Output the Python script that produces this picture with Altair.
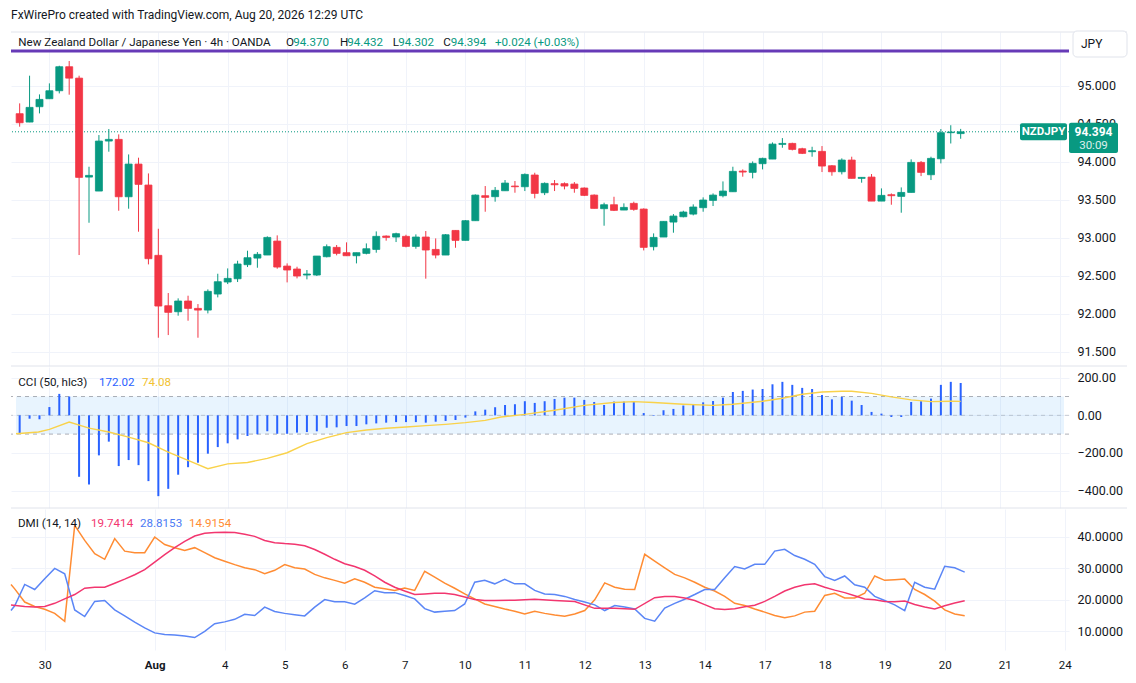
import json
import numpy as np
import pandas as pd
import altair as alt

# ---------------- data ----------------
open_ = [94.632, 94.522, 94.724, 94.829, 94.934, 95.250, 95.100, 93.798, 93.614, 94.272,
         94.294, 93.539, 93.969, 93.693, 92.768, 92.105, 92.026, 92.167, 92.070, 92.048,
         92.259, 92.417, 92.460, 92.645, 92.732, 92.772, 92.956, 92.627, 92.588, 92.509,
         92.509, 92.750, 92.873, 92.803, 92.763, 92.794, 92.846, 93.022, 93.009, 93.018,
         92.886, 93.009, 92.846, 92.772, 93.096, 92.965, 93.224, 93.553, 93.540, 93.618,
         93.680, 93.671, 93.825, 93.592, 93.711, 93.711, 93.706, 93.654, 93.561, 93.382,
         93.434, 93.364, 93.452, 93.377, 92.882, 93.009, 93.206, 93.276, 93.311, 93.395,
         93.491, 93.553, 93.605, 93.877, 93.860, 93.974, 94.035, 94.228, 94.241, 94.171,
         94.132, 94.136, 93.947, 93.868, 94.022, 93.781, 93.798, 93.482, 93.566, 93.544,
         93.596, 93.991, 93.829, 94.039, 94.382, 94.370]
high = [94.768, 95.132, 94.886, 95.031, 95.263, 95.325, 95.132, 93.934, 94.351, 94.430,
        94.360, 94.096, 94.053, 93.846, 93.118, 92.272, 92.202, 92.237, 92.127, 92.320,
        92.526, 92.596, 92.697, 92.829, 92.811, 93.018, 93.031, 92.662, 92.618, 92.575,
        92.759, 92.912, 92.904, 92.939, 92.803, 92.925, 93.083, 93.031, 93.066, 93.039,
        93.044, 93.088, 92.991, 93.048, 93.096, 93.232, 93.570, 93.680, 93.667, 93.759,
        93.746, 93.846, 93.855, 93.728, 93.759, 93.728, 93.732, 93.662, 93.570, 93.461,
        93.539, 93.452, 93.474, 93.386, 93.057, 93.215, 93.311, 93.355, 93.439, 93.531,
        93.583, 93.741, 93.934, 93.899, 94.004, 94.053, 94.254, 94.311, 94.250, 94.184,
        94.197, 94.206, 93.956, 94.044, 94.066, 93.794, 93.838, 93.649, 93.583, 93.662,
        94.031, 94.009, 94.066, 94.430, 94.480, 94.432]
low = [94.461, 94.520, 94.636, 94.829, 94.899, 94.882, 92.772, 93.197, 93.614, 94.132,
       93.355, 93.382, 93.079, 92.649, 91.684, 91.719, 91.974, 91.908, 91.684, 92.004,
       92.215, 92.390, 92.417, 92.614, 92.605, 92.772, 92.592, 92.412, 92.465, 92.452,
       92.496, 92.741, 92.768, 92.759, 92.662, 92.781, 92.803, 92.961, 92.943, 92.873,
       92.855, 92.461, 92.728, 92.772, 92.868, 92.965, 93.224, 93.342, 93.474, 93.618,
       93.592, 93.614, 93.518, 93.561, 93.614, 93.636, 93.592, 93.548, 93.386, 93.158,
       93.351, 93.364, 93.355, 92.833, 92.833, 93.009, 93.066, 93.268, 93.294, 93.342,
       93.417, 93.531, 93.605, 93.803, 93.781, 93.899, 94.035, 94.184, 94.149, 94.101,
       94.066, 93.864, 93.816, 93.833, 93.781, 93.724, 93.482, 93.482, 93.434, 93.329,
       93.596, 93.811, 93.759, 93.978, 94.240, 94.302]
close = [94.513, 94.715, 94.820, 94.934, 95.250, 95.100, 93.794, 93.820, 94.272, 94.294,
         93.539, 93.969, 93.702, 92.724, 92.101, 92.018, 92.167, 92.070, 92.048, 92.294,
         92.421, 92.465, 92.654, 92.737, 92.781, 93.004, 92.614, 92.575, 92.496, 92.522,
         92.759, 92.882, 92.794, 92.763, 92.803, 92.855, 93.018, 93.004, 93.053, 92.886,
         93.009, 92.838, 92.772, 93.039, 92.965, 93.224, 93.561, 93.531, 93.623, 93.719,
         93.671, 93.833, 93.583, 93.715, 93.697, 93.680, 93.649, 93.557, 93.386, 93.434,
         93.360, 93.399, 93.373, 92.873, 93.004, 93.215, 93.285, 93.338, 93.404, 93.496,
         93.561, 93.614, 93.873, 93.864, 93.978, 94.044, 94.232, 94.241, 94.162, 94.110,
         94.145, 93.943, 93.868, 94.022, 93.781, 93.794, 93.482, 93.557, 93.553, 93.596,
         93.991, 93.860, 94.044, 94.382, 94.390, 94.394]

cci = [-98, -18, -21, 44, 114, 100, -327, -368, -213, -140,
       -270, -238, -265, -350, -430, -391, -316, -276, -252, -204,
       -169, -149, -128, -110, -101, -85, -98, -98, -92, -89,
       -85, -66, -64, -57, -57, -48, -43, -39, -36, -36,
       -36, -39, -34, -30, -25, -12, 21, 30, 43, 55,
       59, 75, 66, 75, 87, 94, 94, 82, 71, 55,
       73, 73, 73, 12, -3, 27, 34, 52, 55, 69,
       76, 94, 124, 130, 137, 140, 165, 178, 162, 146,
       140, 108, 85, 98, 78, 55, 18, 9, -9, -9,
       71, 75, 89, 162, 178, 172.02]
cci_ma_x = [-0.37, 1.9, 3, 5, 7, 9, 11, 13, 15, 17, 19, 21, 23, 25, 27, 29, 31, 33, 35, 37,
            39, 41, 43, 45, 47, 48.6, 51, 54, 57, 60, 62, 64, 67, 70, 72, 75, 77, 79, 81, 83,
            84, 86, 88, 90, 92, 94, 95]
cci_ma = [-98, -89, -75, -36, -68, -89, -116, -146, -196, -240, -284, -258, -251, -229, -199,
          -151, -119, -92, -78, -69, -62, -55, -48, -39, -27, -9, 5, 27, 53, 68, 73, 68, 59,
          53, 59, 75, 91, 112, 124, 128, 128, 117, 98, 82, 73, 75, 74.08]

dmi_x = [-0.37] + list(range(96))
plus_di = [16.6,
           18.1, 24.9, 23.3, 26.7, 30.0, 28.3, 16.8, 14.7, 19.5, 19.8,
           16.8, 14.9, 12.9, 11.1, 9.5, 9.0, 8.8, 8.5, 8.0, 10.0,
           12.4, 13.0, 13.8, 15.4, 15.0, 17.7, 16.3, 15.7, 15.3, 14.9,
           17.7, 20.1, 19.4, 19.4, 18.6, 20.6, 22.9, 22.3, 22.3, 21.4,
           20.3, 17.2, 16.1, 16.4, 16.6, 18.7, 25.6, 26.2, 25.1, 26.5,
           25.1, 25.1, 23.0, 21.9, 21.7, 21.1, 20.1, 19.3, 18.4, 16.6,
           18.2, 17.7, 17.1, 14.1, 13.2, 17.4, 18.9, 20.2, 21.7, 23.3,
           23.3, 27.0, 30.6, 29.8, 31.3, 31.3, 35.5, 36.1, 34.1, 32.9,
           31.3, 27.4, 26.2, 27.6, 24.8, 24.0, 21.1, 19.8, 18.4, 16.6,
           25.6, 24.0, 23.4, 30.7, 30.2, 28.8153]
minus_di = [24.9,
            23.5, 19.3, 17.9, 17.0, 15.7, 13.2, 43.7, 38.9, 34.7, 32.9,
            39.5, 35.5, 35.0, 35.0, 40.0, 37.6, 36.6, 35.7, 36.6, 35.0,
            33.4, 32.3, 31.2, 30.2, 29.6, 28.3, 29.4, 31.2, 30.2, 29.8,
            28.1, 27.0, 26.2, 25.3, 26.7, 25.6, 24.0, 23.5, 23.0, 23.8,
            23.0, 29.1, 27.2, 25.3, 23.7, 21.9, 20.3, 18.7, 17.9, 17.1,
            16.4, 15.5, 16.4, 15.7, 15.2, 14.8, 15.5, 16.6, 20.0, 25.4,
            24.0, 23.4, 23.3, 34.5, 32.3, 30.2, 28.1, 27.0, 25.6, 24.0,
            22.8, 21.1, 18.9, 18.2, 17.1, 16.1, 15.0, 14.3, 14.9, 16.1,
            16.4, 21.4, 22.1, 20.6, 20.6, 22.1, 27.6, 26.2, 26.4, 26.6,
            23.3, 21.7, 19.6, 16.8, 15.5, 14.9154]
adx_x = [-0.37] + list(range(1, 49)) + [50, 52, 54, 56, 58, 60, 62] + list(range(64, 96))
adx = [18.4,
       17.9, 17.7, 17.9, 18.9, 20.3, 21.7, 23.7, 24.0, 24.0, 25.3,
       26.6, 28.0, 29.6, 32.0, 34.4, 36.6, 38.6, 40.3, 41.2, 41.4,
       41.5, 41.4, 40.9, 40.2, 38.9, 38.2, 37.9, 37.7, 37.2, 36.0,
       34.5, 32.9, 31.5, 30.6, 29.4, 27.6, 25.6, 24.0, 22.8, 21.7,
       21.9, 22.1, 22.1, 21.7, 20.9, 20.1, 19.8, 19.8,
       19.9, 20.2, 19.8, 19.5, 17.3, 17.3, 17.0,
       20.7, 21.1, 21.1, 20.6, 19.8, 18.5, 17.2, 16.9, 17.2, 17.8,
       18.3, 19.5, 21.1, 22.8, 24.0, 24.8, 25.1, 24.0, 23.1, 22.3,
       21.3, 20.3, 20.0, 19.5, 19.4, 19.6, 18.5, 17.7, 17.1, 18.1,
       19.0, 19.7414]

tick_idx = [3, 14, 21, 27, 33, 39, 45, 51, 57, 63, 69, 75, 81, 87, 93, 99, 105]
tick_lbl = ["30", "Aug", "4", "5", "6", "7", "10", "11", "12", "13", "14", "17", "18",
            "19", "20", "21", "24"]
price_ticks = [91.5, 92.0, 92.5, 93.0, 93.5, 94.0, 94.5, 95.0]
cci_ticks = [-400, -200, 0, 200]
dmi_ticks = [10, 20, 30, 40]
cci_bands = [100, 0, -100]
last_price = 94.394
hline_price = 95.457

# ---------------- styling ----------------
FONT = "Roboto"
TXT = "#131722"
UP = "#089981"
DN = "#F23645"
GRID = "#F0F3FA"
SEP = "#E0E3EB"
ADX_C, PDI_C, MDI_C = "#F2366F", "#5B86F6", "#FF8C33"
W = 1058
H_PRICE, H_CCI, H_DMI = 334, 141, 141
XDOM = [-0.37, 105.43]
LF = 11.6  # legend font size

xs = alt.Scale(domain=XDOM, nice=False, zero=False)
lbl_expr = "%s[indexof(%s, datum.value)]" % (json.dumps(tick_lbl), json.dumps(tick_idx))


def xaxis(show):
    if show:
        return alt.Axis(values=tick_idx, labelExpr=lbl_expr, grid=True, gridColor=GRID,
                        ticks=False, domain=False, title=None, labelColor=TXT,
                        labelFont=FONT, labelFontSize=11.5, labelPadding=9,
                        labelFontWeight={"condition": {"test": "datum.value === 14",
                                                       "value": "bold"},
                                         "value": "normal"})
    return alt.Axis(values=tick_idx, labels=False, grid=True, gridColor=GRID,
                    ticks=False, domain=False, title=None)


def yaxis(vals, fmt):
    return alt.Axis(orient="right", values=vals, format=fmt, title=None, ticks=False,
                    domain=False, grid=True, gridColor=GRID, labelPadding=8,
                    labelColor=TXT, labelFont=FONT, labelFontSize=12.5)


one = pd.DataFrame({"a": [0]})


def txt(s, x, y, color=TXT, size=LF, weight="normal", align="left", opacity=1.0):
    return alt.Chart(one).mark_text(text=s, align=align, baseline="middle", font=FONT,
                                    fontSize=size, fontWeight=weight, color=color,
                                    opacity=opacity).encode(x=alt.value(x), y=alt.value(y))


def box(x, x2, y, y2, fill, stroke=None, radius=2):
    kw = dict(fill=fill, cornerRadius=radius)
    if stroke:
        kw.update(stroke=stroke, strokeWidth=1)
    return alt.Chart(one).mark_rect(**kw).encode(x=alt.value(x), x2=alt.value(x2),
                                                 y=alt.value(y), y2=alt.value(y2))


def hsep(y, x2=1116):
    return alt.Chart(one).mark_rule(color=SEP, strokeWidth=1).encode(
        x=alt.value(0), x2=alt.value(x2), y=alt.value(y))


# ---------------- price panel ----------------
cd = pd.DataFrame({"i": list(range(len(open_))), "o": open_, "h": high, "l": low, "c": close})
cd["dir"] = np.where(cd["c"] >= cd["o"], "up", "down")

py = alt.Scale(domain=[91.312, 95.707], nice=False, zero=False)
pax = yaxis(price_ticks, ".3f")
X = alt.X("i:Q", scale=xs, axis=xaxis(False))
dir_scale = alt.Scale(domain=["up", "down"], range=[UP, DN])
col = alt.Color("dir:N", scale=dir_scale, legend=None)

wicks = alt.Chart(cd).mark_rule(strokeWidth=1).encode(
    x=X, y=alt.Y("l:Q", scale=py, axis=pax), y2="h:Q", color=col)
bodies = alt.Chart(cd).mark_bar(size=7, strokeWidth=0.8).encode(
    x=X, y=alt.Y("o:Q", scale=py, axis=pax), y2="c:Q", color=col,
    stroke=alt.Stroke("dir:N", scale=dir_scale, legend=None))
last_rule = alt.Chart(pd.DataFrame({"p": [last_price]})).mark_rule(
    color=UP, strokeDash=[1, 2], strokeWidth=1).encode(y=alt.Y("p:Q", scale=py, axis=pax))
purple = alt.Chart(pd.DataFrame({"p": [hline_price]})).mark_rule(
    color="#673AB7", strokeWidth=3).encode(y=alt.Y("p:Q", scale=py, axis=pax))

price = alt.layer(
    hsep(0),
    purple, last_rule, wicks, bodies,
    txt("FxWirePro created with TradingView.com, Aug 20, 2026 12:29 UTC", 0, -17, size=12),
    txt("New Zealand Dollar / Japanese Yen · 4h · OANDA", 7.3, 11),
    txt("O", 275, 11), txt("94.370", 282.3, 11, UP),
    txt("H", 329, 11), txt("94.432", 336.3, 11, UP),
    txt("L", 381.7, 11), txt("94.302", 387.3, 11, UP),
    txt("C", 432.3, 11), txt("94.394", 439.7, 11, UP),
    txt("+0.024 (+0.03%)", 484, 11, UP),
    box(1062, 1116, -1, 25, "#FFFFFF", SEP, 4),
    txt("JPY", 1080.7, 11.5, TXT, 12, align="center"),
    box(1009, 1056, 91.3, 108.3, UP),
    txt("NZDJPY", 1032.5, 100, "#FFFFFF", 11.5, "bold", "center"),
    box(1058, 1107, 90.7, 121, UP),
    txt("94.394", 1082.5, 99.5, "#FFFFFF", 12, "bold", "center"),
    txt("30:09", 1082.5, 113.5, "#FFFFFF", 11.5, "normal", "center", 0.85),
    hsep(H_PRICE),
).properties(width=W, height=H_PRICE)

# ---------------- CCI panel ----------------
cy = alt.Scale(domain=[-493, 257], nice=False, zero=False)
cax = yaxis(cci_ticks, ".2f")
cdf = pd.DataFrame({"i": list(range(len(cci))), "v": cci, "z": 0})
band = alt.Chart(pd.DataFrame({"x": [XDOM[0]], "x2": [XDOM[1]], "y": [cci_bands[0]],
                               "y2": [cci_bands[2]]})).mark_rect(
    color="#2196F3", opacity=0.1).encode(
    x=alt.X("x:Q", scale=xs, axis=xaxis(False)), x2="x2:Q",
    y=alt.Y("y:Q", scale=cy, axis=cax), y2="y2:Q")
bdf = pd.DataFrame({"b": cci_bands, "op": [0.6, 0.35, 0.6]})
bands = alt.Chart(bdf).mark_rule(color="#787B86", strokeDash=[4, 4], strokeWidth=1).encode(
    y=alt.Y("b:Q", scale=cy, axis=cax), opacity=alt.Opacity("op:Q", scale=None, legend=None))
cbars = alt.Chart(cdf).mark_bar(size=2, color="#2962FF").encode(
    x=alt.X("i:Q", scale=xs, axis=xaxis(False)), y=alt.Y("v:Q", scale=cy, axis=cax), y2="z:Q")
cma = alt.Chart(pd.DataFrame({"x": cci_ma_x, "v": cci_ma})).mark_line(
    color="#F9D24A", strokeWidth=1.4).encode(
    x=alt.X("x:Q", scale=xs, axis=xaxis(False)), y=alt.Y("v:Q", scale=cy, axis=cax))

cci_panel = alt.layer(
    band, bands, cbars, cma,
    txt("CCI (50, hlc3)", 7.3, 16.3),
    txt("172.02", 88, 16.3, "#2962FF"),
    txt("74.08", 131, 16.3, "#F2C230"),
    hsep(H_CCI),
).properties(width=W, height=H_CCI)

# ---------------- DMI panel ----------------
dy = alt.Scale(domain=[4.05, 48.9], nice=False, zero=False)
dax = yaxis(dmi_ticks, ".4f")


def dline(xv, yv, color):
    return alt.Chart(pd.DataFrame({"x": xv, "v": yv})).mark_line(
        strokeWidth=1.5, color=color).encode(
        x=alt.X("x:Q", scale=xs, axis=xaxis(True)),
        y=alt.Y("v:Q", scale=dy, axis=dax),
        order="x:Q")


dmi_panel = alt.layer(
    dline(dmi_x, minus_di, MDI_C),
    dline(dmi_x, plus_di, PDI_C),
    dline(adx_x, adx, ADX_C),
    txt("DMI (14, 14)", 7, 15),
    txt("19.7414", 80, 15, ADX_C),
    txt("28.8153", 129, 15, "#4C7BF4"),
    txt("14.9154", 178, 15, MDI_C),
).properties(width=W, height=H_DMI)

chart = alt.vconcat(price, cci_panel, dmi_panel, spacing=0).properties(
    padding={"left": 0, "top": 1, "right": 0, "bottom": 0},
    background="#FFFFFF",
).configure_view(stroke=None)

chart.save("out.html", embed_options={"renderer": "svg", "actions": False})
